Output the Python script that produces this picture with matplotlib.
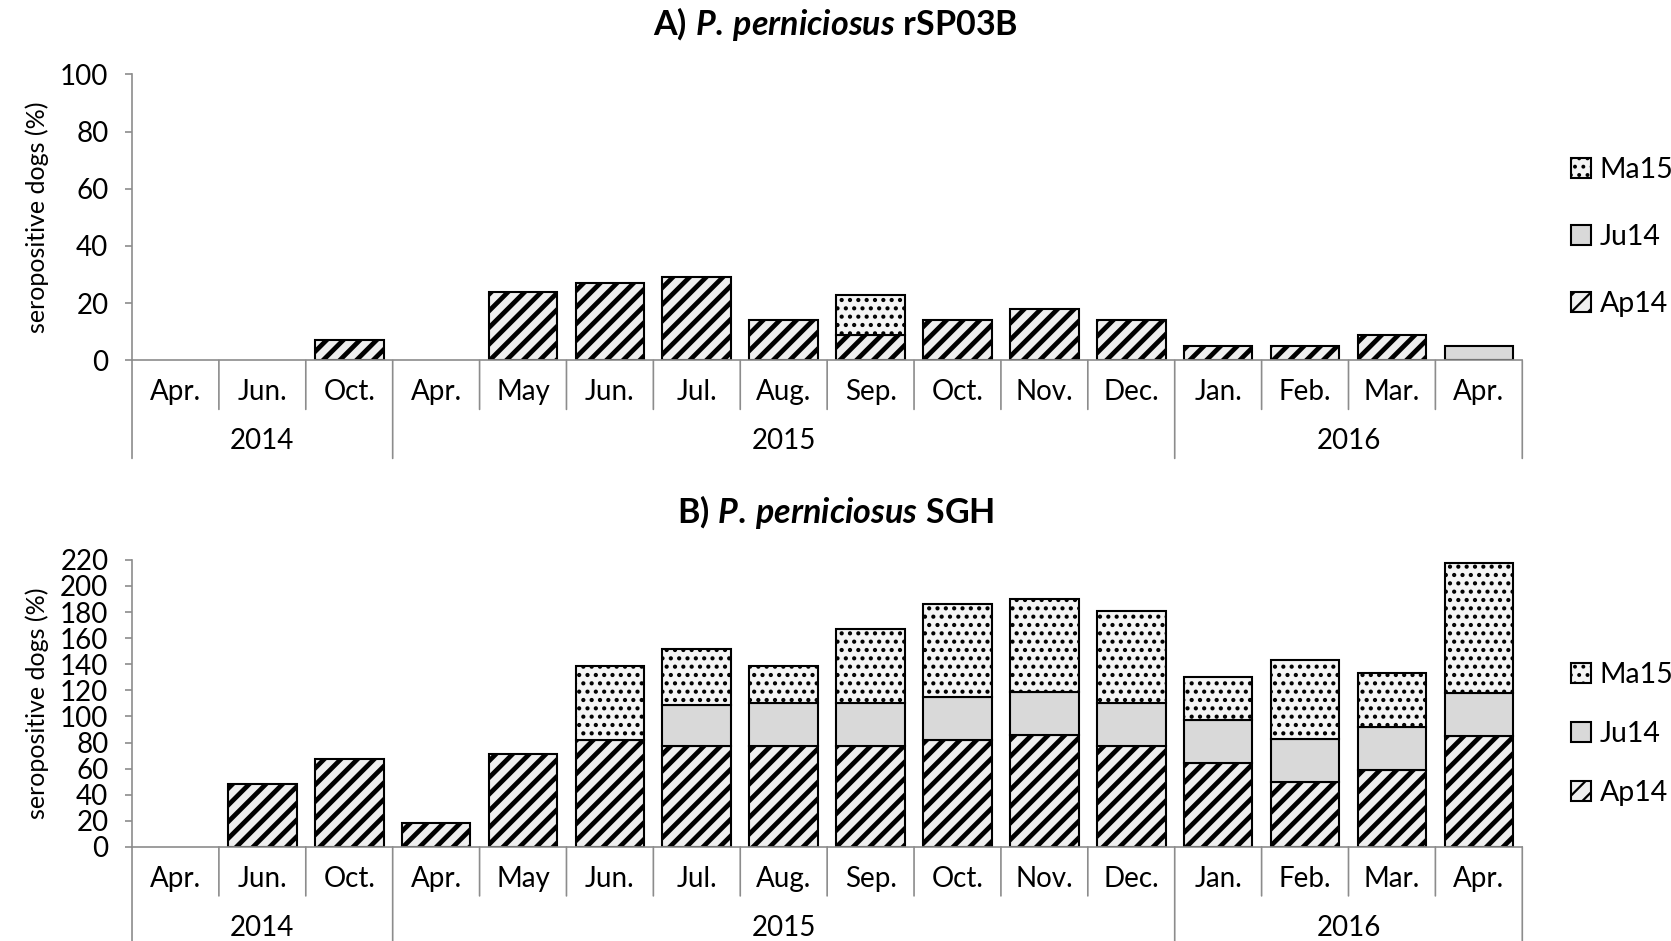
import numpy as np
import matplotlib
matplotlib.use('Agg')
from matplotlib import pyplot as plt
import matplotlib.transforms as mtransforms

## Data section
months = ['Apr.', 'Jun.', 'Oct.', 'Apr.', 'May', 'Jun.', 'Jul.', 'Aug.',
          'Sep.', 'Oct.', 'Nov.', 'Dec.', 'Jan.', 'Feb.', 'Mar.', 'Apr.']
years = ['2014', '2015', '2016']
year_counts = [3, 9, 4]
series = ['Ap14', 'Ju14', 'Ma15']

# A) rSP03B
a_ap14 = [0, 0, 7, 0, 24, 27, 29, 14, 9, 14, 18, 14, 5, 5, 9, 0]
a_ju14 = [0, 0, 0, 0, 0, 0, 0, 0, 0, 0, 0, 0, 0, 0, 0, 5]
a_ma15 = [0, 0, 0, 0, 0, 0, 0, 0, 14, 0, 0, 0, 0, 0, 0, 0]

# B) SGH
b_ap14 = [0, 48, 67, 18, 71, 82, 77, 77, 77, 82, 86, 77, 64, 50, 59, 85]
b_ju14 = [0, 0, 0, 0, 0, 0, 32, 33, 33, 33, 33, 33, 33, 33, 33, 33]
b_ma15 = [0, 0, 0, 0, 0, 57, 43, 29, 57, 71, 71, 71, 33, 60, 41, 100]

## Config section
plt.rcParams['font.family'] = ['Lato', 'DejaVu Sans']
plt.rcParams['mathtext.fontset'] = 'custom'
plt.rcParams['mathtext.rm'] = 'Lato:bold'
plt.rcParams['mathtext.bf'] = 'Lato:bold'
plt.rcParams['mathtext.it'] = 'Lato:bold:italic'
axis_gray = '#8c8c8c'
tick_fs = 20
styles = {
    'Ap14': dict(facecolor='#efefef', hatch='//', hlw=3.4),
    'Ju14': dict(facecolor='#d9d9d9', hatch=None, hlw=1.0),
    'Ma15': dict(facecolor='#f4f4f4', hatch='..', hlw=1.8),
}

fig = plt.figure(figsize=(16.71, 9.41), dpi=100)


def set_hlw(patch, lw):
    if hasattr(patch, 'set_hatch_linewidth'):
        patch.set_hatch_linewidth(lw)


def draw_panel(ax, values, ymax, legend_y, labelspacing):
    x = np.arange(len(months))
    bottom = np.zeros(len(months))
    for name, vals in zip(series, values):
        vals = np.array(vals, dtype=float)
        st = styles[name]
        plt.rcParams['hatch.linewidth'] = st['hlw']
        bars = ax.bar(x, np.where(vals > 0, vals, np.nan), 0.79,
                      bottom=bottom, facecolor=st['facecolor'],
                      edgecolor='black', linewidth=1.5, hatch=st['hatch'],
                      label=name)
        for b in bars:
            set_hlw(b, st['hlw'])
        bottom = bottom + vals

    ax.set_xlim(-0.5, len(months) - 0.5)
    ax.set_ylim(0, ymax)
    ax.set_yticks(np.arange(0, ymax + 1, 20))
    ax.tick_params(axis='y', labelsize=tick_fs, color=axis_gray, length=5,
                   width=1.2, pad=12)
    ax.set_xticks([])
    for s in ['top', 'right']:
        ax.spines[s].set_visible(False)
    for s in ['left', 'bottom']:
        ax.spines[s].set_color(axis_gray)
        ax.spines[s].set_linewidth(1.2)
    ax.set_ylabel('seropositive dogs (%)', fontsize=18, labelpad=8)

    # multi-level category axis (month row + year row)
    base = mtransforms.blended_transform_factory(ax.transData, ax.transAxes)
    year_edges = np.concatenate([[0], np.cumsum(year_counts)]) - 0.5
    for i in range(len(months) + 1):
        xb = i - 0.5
        depth = 98 if np.any(np.isclose(year_edges, xb)) else 49
        trans_end = mtransforms.offset_copy(base, fig, y=-depth, units='dots')
        ax.annotate('', xy=(xb, 0), xycoords=base,
                    xytext=(xb, 0), textcoords=trans_end,
                    arrowprops=dict(arrowstyle='-', color=axis_gray, lw=1.2,
                                    shrinkA=0, shrinkB=0),
                    annotation_clip=False)
    mon_tr = mtransforms.offset_copy(base, fig, y=-32, units='dots')
    for i, m in enumerate(months):
        ax.text(i, 0, m, transform=mon_tr, ha='center', va='center',
                fontsize=tick_fs, clip_on=False)
    yr_tr = mtransforms.offset_copy(base, fig, y=-81, units='dots')
    for j, yname in enumerate(years):
        xc = (year_edges[j] + year_edges[j + 1]) / 2
        ax.text(xc, 0, yname, transform=yr_tr, ha='center', va='center',
                fontsize=tick_fs, clip_on=False)

    handles, labels = ax.get_legend_handles_labels()
    leg = fig.legend(handles[::-1], labels[::-1], loc='center left',
                     bbox_to_anchor=(0.925, legend_y), frameon=False,
                     fontsize=tick_fs + 0.5, handlelength=0.7,
                     handleheight=0.7, handletextpad=0.3,
                     labelspacing=labelspacing)
    for h, lab in zip(leg.legend_handles, labels[::-1]):
        set_hlw(h, min(styles[lab]['hlw'], 1.6))


ax_a = fig.add_axes([0.079, 0.617, 0.832, 0.304])
draw_panel(ax_a, [a_ap14, a_ju14, a_ma15], 100, 0.748, 1.45)
fig.text(0.5, 0.975, r'$\mathbf{A)}\ \mathit{P.\!\ perniciosus}\ \mathbf{rSP03B}$',
         ha='center', va='center', fontsize=24.5)

ax_b = fig.add_axes([0.079, 0.100, 0.832, 0.305])
draw_panel(ax_b, [b_ap14, b_ju14, b_ma15], 220, 0.22, 1.15)
fig.text(0.5, 0.456, r'$\mathbf{B}\mathit{)\ P.\!\ perniciosus}\ \mathbf{SGH}$',
         ha='center', va='center', fontsize=24.5)

plt.savefig('out.png', dpi=100)
plt.close()
